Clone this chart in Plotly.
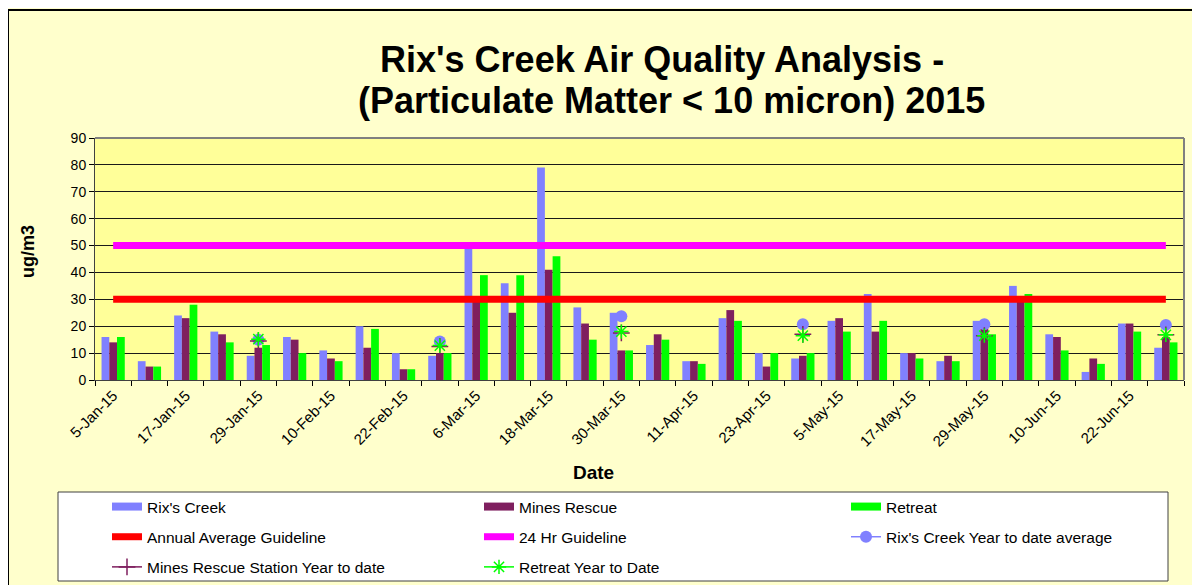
import plotly.graph_objects as go

# ---------------- data ----------------
dates = ["2015-01-05", "2015-01-11", "2015-01-17", "2015-01-23", "2015-01-29",
         "2015-02-04", "2015-02-10", "2015-02-16", "2015-02-22", "2015-02-28",
         "2015-03-06", "2015-03-12", "2015-03-18", "2015-03-24", "2015-03-30",
         "2015-04-05", "2015-04-11", "2015-04-17", "2015-04-23", "2015-04-29",
         "2015-05-05", "2015-05-11", "2015-05-17", "2015-05-23", "2015-05-29",
         "2015-06-04", "2015-06-10", "2015-06-16", "2015-06-22", "2015-06-28"]

rixs_creek = [16, 7, 24, 18, 9, 16, 11, 20, 10, 9,
              49, 36, 79, 27, 25, 13, 7, 23, 10, 8,
              22, 32, 10, 7, 22, 35, 17, 3, 21, 12]
mines_rescue = [14, 5, 23, 17, 12, 15, 8, 12, 4, 10,
                30, 25, 41, 21, 11, 17, 7, 26, 5, 9,
                23, 18, 10, 9, 19, 31, 16, 8, 21, 16]
retreat = [16, 5, 28, 14, 13, 10, 7, 19, 4, 10,
           39, 39, 46, 15, 11, 15, 6, 22, 10, 10,
           18, 22, 8, 7, 17, 32, 11, 6, 18, 14]

annual_guideline = [30] * len(dates)
hr24_guideline = [50] * len(dates)

N = None
rix_ytd = [N, N, N, N, 15, N, N, N, N, 14.3, N, N, N, N, 23.7,
           N, N, N, N, 20.7, N, N, N, N, 20.7, N, N, N, N, 20.5]
mines_ytd = [N, N, N, N, 14.5, N, N, N, N, 12.5, N, N, N, N, 17.5,
             N, N, N, N, 17, N, N, N, N, 16.5, N, N, N, N, 16.8]
retreat_ytd = [N, N, N, N, 15.2, N, N, N, N, 12.8, N, N, N, N, 18,
               N, N, N, N, 16.5, N, N, N, N, 16.5, N, N, N, N, 16.8]

title_line1 = "Rix's Creek Air Quality Analysis -"
title_line2 = "(Particulate Matter < 10 micron) 2015"

# ---------------- colours ----------------
C_RIX = "#8080FF"
C_MINES = "#7F1F5F"
C_RET = "#00FF00"
C_RED = "#FF0000"
C_MAG = "#FF00FF"

# page offset (body margin) = 8 px
OFF = 8
W, H = 1200, 585
L = 95 - OFF
T = 138 - OFF
R = W - (1184 - OFF)
B = H - (380 - OFF)
PW, PH = W - L - R, H - T - B


def px(x):  # reference-page x -> paper
    return (x - OFF - L) / PW


def py(y):  # reference-page y -> paper
    return (H - B - (y - OFF)) / PH


FONT = "Arial, Liberation Sans, sans-serif"

fig = go.Figure()

# bars
for name, vals, col in [("Rix's Creek", rixs_creek, C_RIX),
                        ("Mines Rescue", mines_rescue, C_MINES),
                        ("Retreat", retreat, C_RET)]:
    fig.add_trace(go.Bar(x=dates, y=vals, name=name, marker=dict(color=col, line=dict(width=0)),
                         showlegend=False))

# guideline lines
fig.add_trace(go.Scatter(x=dates, y=annual_guideline, mode="lines", name="Annual Average Guideline",
                         line=dict(color=C_RED, width=7), legend="legend", legendgroup="a",
                         legendrank=2))
fig.add_trace(go.Scatter(x=dates, y=hr24_guideline, mode="lines", name="24 Hr Guideline",
                         line=dict(color=C_MAG, width=7), legend="legend2", legendgroup="b",
                         legendrank=2))

# year to date markers
fig.add_trace(go.Scatter(x=dates, y=rix_ytd, mode="lines+markers", name="Rix's Creek Year to date average",
                         line=dict(color=C_RIX, width=1.5), connectgaps=False,
                         marker=dict(symbol="circle", size=12, color=C_RIX),
                         legend="legend3", legendgroup="c", legendrank=2))
fig.add_trace(go.Scatter(x=dates, y=mines_ytd, mode="lines+markers", name="Mines Rescue Station Year to date",
                         line=dict(color=C_MINES, width=1.5), connectgaps=False,
                         marker=dict(symbol="cross-thin-open", size=12, line=dict(color=C_MINES, width=1.5)),
                         legend="legend", legendgroup="d", legendrank=3))
fig.add_trace(go.Scatter(x=dates, y=retreat_ytd, mode="lines+markers", name="Retreat Year to Date",
                         line=dict(color=C_RET, width=1.5), connectgaps=False,
                         marker=dict(symbol="asterisk-open", size=12, line=dict(color=C_RET, width=1.5)),
                         legend="legend2", legendgroup="e", legendrank=3))

# legend entries for bars (bar-coloured swatches)
for name, col, lg, grp in [("Rix's Creek", C_RIX, "legend", "f"),
                           ("Mines Rescue", C_MINES, "legend2", "g"),
                           ("Retreat", C_RET, "legend3", "h")]:
    fig.add_trace(go.Scatter(x=[None], y=[None], mode="lines", name=name,
                             line=dict(color=col, width=8), legend=lg, legendgroup=grp,
                             legendrank=1))

legend_common = dict(bgcolor="rgba(0,0,0,0)", borderwidth=0, orientation="v",
                     xanchor="left", yanchor="top", tracegroupgap=7,
                     font=dict(family=FONT, size=15.5, color="black"))
ly = py(490)
fig.update_layout(
    legend=dict(x=px(149 - 42), y=ly, **legend_common),
    legend2=dict(x=px(521 - 42), y=ly, **legend_common),
    legend3=dict(x=px(888 - 42), y=ly, **legend_common),
)

fig.update_layout(
    width=W, height=H,
    margin=dict(l=L, r=R, t=T, b=B, autoexpand=False),
    paper_bgcolor="#FFFFCC",
    plot_bgcolor="#FFFF99",
    barmode="group", bargap=0.36, bargroupgap=0,
    font=dict(family=FONT, color="black"),
    xaxis=dict(
        type="date",
        range=["2015-01-02", "2015-07-01"],
        tick0="2015-01-05", dtick=12 * 86400000,
        tickformat="%-d-%b-%y", tickangle=-45,
        tickfont=dict(size=15, color="black"),
        ticks="", showgrid=False,
        showline=True, linecolor="#404040", linewidth=1,
        minor=dict(tick0="2015-01-02", dtick=6 * 86400000, ticks="outside",
                   ticklen=5, tickcolor="black", tickwidth=1, showgrid=False),
    ),
    yaxis=dict(
        range=[0, 90], dtick=10, tick0=0,
        showgrid=True, gridcolor="#1a1a1a", gridwidth=1,
        zeroline=False,
        showline=True, linecolor="#404040", linewidth=1,
        ticks="outside", ticklen=5, tickcolor="black",
        tickfont=dict(size=14, color="black"),
    ),
    shapes=[
        # black frame lines (top and left of the chart area)
        dict(type="line", xref="paper", yref="paper", x0=px(8), x1=px(1220), y0=py(10), y1=py(10),
             line=dict(color="black", width=2)),
        dict(type="line", xref="paper", yref="paper", x0=px(8), x1=px(8), y0=py(10), y1=py(610),
             line=dict(color="black", width=2)),
        # plot area border (top, right)
        dict(type="line", xref="paper", yref="paper", x0=0, x1=1, y0=1, y1=1,
             line=dict(color="#808080", width=2)),
        dict(type="line", xref="paper", yref="paper", x0=1, x1=1, y0=0, y1=1,
             line=dict(color="#808080", width=2)),
        # legend box
        dict(type="rect", xref="paper", yref="paper", x0=px(58), x1=px(1168), y0=py(581), y1=py(492),
             fillcolor="white", line=dict(color="#404040", width=1)),
    ],
    annotations=[
        dict(text=f"<b>{title_line1}</b>", xref="paper", yref="paper", x=px(662), y=py(60),
             xanchor="center", yanchor="middle", showarrow=False,
             font=dict(size=36, family=FONT, color="black")),
        dict(text=f"<b>{title_line2}</b>", xref="paper", yref="paper", x=px(671), y=py(101),
             xanchor="center", yanchor="middle", showarrow=False,
             font=dict(size=36, family=FONT, color="black")),
        dict(text="<b>ug/m3</b>", xref="paper", yref="paper", x=px(28), y=py(252),
             xanchor="center", yanchor="middle", showarrow=False, textangle=-90,
             font=dict(size=18, family=FONT, color="black")),
        dict(text="<b>Date</b>", xref="paper", yref="paper", x=px(593), y=py(472),
             xanchor="center", yanchor="middle", showarrow=False,
             font=dict(size=19, family=FONT, color="black")),
    ],
)

fig.write_html("out.html")
